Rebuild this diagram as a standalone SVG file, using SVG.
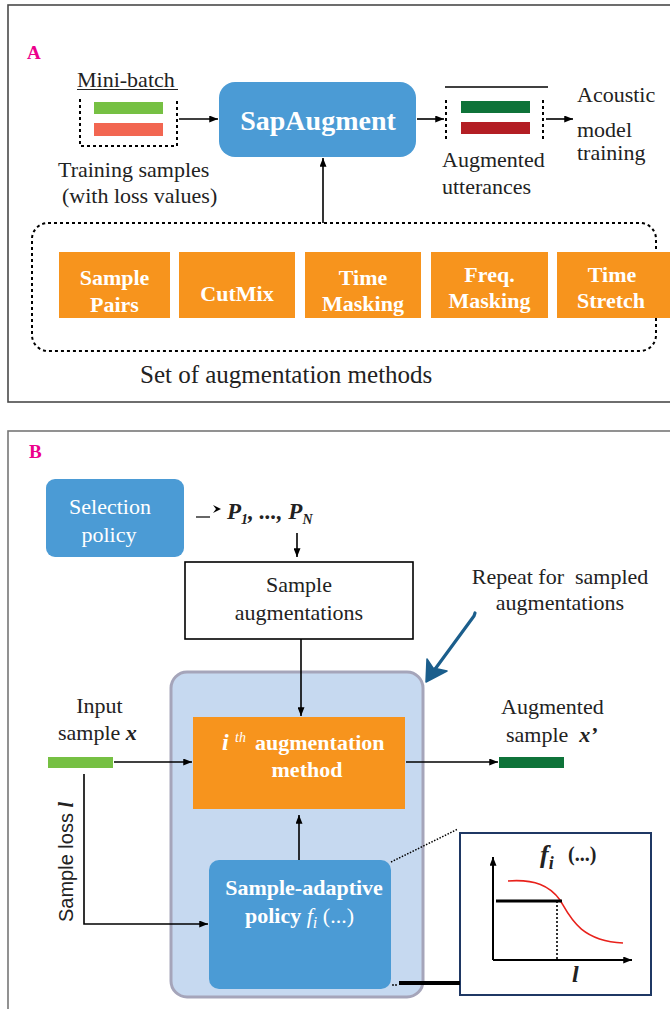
<svg xmlns="http://www.w3.org/2000/svg" width="670" height="1009" viewBox="0 0 670 1009" font-family="Liberation Serif, Tinos, Times New Roman, DejaVu Serif, serif">
<defs>
<marker id="ah" viewBox="0 0 10 8" refX="10" refY="4" markerWidth="9" markerHeight="7" markerUnits="userSpaceOnUse" orient="auto">
<path d="M0,0 L10,4 L0,8 Z" fill="#000"/>
</marker>
<style>
text{font-family:'Liberation Serif','Tinos','Times New Roman','DejaVu Serif',serif}
.t{fill:#222;font-size:22px}
.w{fill:#fff;font-size:22px;font-weight:bold}
.lab{fill:#EC008C;font-size:19px;font-weight:bold}
.bi{font-weight:bold;font-style:italic}
.sans{font-family:'Liberation Sans',Arial,sans-serif}
.c{stroke:#000;stroke-width:1.6;fill:none}
.orange{fill:#F7941D}
.blue{fill:#4B9BD5}
.dash{stroke:#000;stroke-width:2;fill:none;stroke-dasharray:3,3}
</style>
</defs>
<rect width="670" height="1009" fill="#fff"/>

<!-- Panel A -->
<g id="panelA">
<rect x="8" y="5" width="700" height="397" fill="none" stroke="#4a4a4a" stroke-width="1.6"/>
<text class="lab" x="27" y="59">A</text>
</g>

<g id="minibatch">
<text class="t" x="77" y="87">Mini-batch</text>
<line x1="77" y1="89.5" x2="178" y2="89.5" stroke="#222" stroke-width="1.2"/>
<path class="dash" d="M80,99 V146 H177 V99"/>
<rect x="94" y="102" width="69" height="12" fill="#76C043"/>
<rect x="94" y="123" width="69" height="13" fill="#F26651"/>
<text class="t" x="58" y="177">Training samples</text>
<text class="t" x="62" y="203">(with loss values)</text>
</g>

<g id="sapaugment">
<rect class="blue" x="219" y="82" width="197" height="75" rx="16"/>
<text class="w" x="318" y="130" text-anchor="middle" style="font-size:28px">SapAugment</text>
</g>

<g id="augmented">
<line x1="445" y1="87" x2="548" y2="87" stroke="#000" stroke-width="1.5"/>
<line class="dash" x1="446" y1="100" x2="446" y2="141"/>
<line class="dash" x1="543" y1="100" x2="543" y2="141"/>
<rect x="461" y="101" width="69" height="12" fill="#0E7339"/>
<rect x="461" y="122" width="69" height="12" fill="#B31E24"/>
<text class="t" x="442" y="167">Augmented</text>
<text class="t" x="442" y="194">utterances</text>
</g>

<g id="acoustic">
<text class="t" x="577" y="102">Acoustic</text>
<text class="t" x="577" y="137">model</text>
<text class="t" x="577" y="160">training</text>
</g>

<g id="methods">
<rect class="dash" x="32" y="223" width="624" height="128" rx="16"/>
<rect class="orange" x="59" y="252" width="111" height="66"/>
<text class="w" x="114.5" y="285" text-anchor="middle">Sample</text>
<text class="w" x="114.5" y="312" text-anchor="middle">Pairs</text>
<rect class="orange" x="179" y="252" width="116" height="66"/>
<text class="w" x="237" y="301" text-anchor="middle">CutMix</text>
<rect class="orange" x="305" y="252" width="116" height="66"/>
<text class="w" x="363" y="285" text-anchor="middle">Time</text>
<text class="w" x="363" y="311" text-anchor="middle">Masking</text>
<rect class="orange" x="431" y="252" width="117" height="66"/>
<text class="w" x="489.5" y="282" text-anchor="middle">Freq.</text>
<text class="w" x="489.5" y="308" text-anchor="middle">Masking</text>
<rect class="orange" x="557" y="252" width="113" height="66"/>
<text class="w" x="612" y="282" text-anchor="middle">Time</text>
<text class="w" x="611" y="308" text-anchor="middle">Stretch</text>
<text class="t" x="140" y="383" style="font-size:25px">Set of augmentation methods</text>
</g>

<!-- Panel B -->
<g id="panelB">
<rect x="8" y="431" width="700" height="600" fill="none" stroke="#777" stroke-width="1.6"/>
<text class="lab" x="29" y="458">B</text>
</g>

<g id="selection">
<rect class="blue" x="46" y="479" width="138" height="78" rx="9"/>
<text class="t" x="110" y="514" text-anchor="middle" style="fill:#fff">Selection</text>
<text class="t" x="109" y="542" text-anchor="middle" style="fill:#fff">policy</text>
</g>

<g id="probs">
<text class="t bi" x="227" y="519" style="font-size:23px">P<tspan dy="5" style="font-size:14px">1</tspan><tspan dy="-5">, ..., P</tspan><tspan dy="5" style="font-size:14px">N</tspan></text>
</g>

<g id="sampleaug">
<rect x="185" y="562" width="228" height="77" fill="#fff" stroke="#000" stroke-width="1.6"/>
<text class="t" x="299" y="592" text-anchor="middle">Sample</text>
<text class="t" x="299" y="620" text-anchor="middle">augmentations</text>
</g>

<g id="repeat">
<text class="t" x="560" y="584" text-anchor="middle" xml:space="preserve">Repeat for  sampled</text>
<text class="t" x="560" y="610" text-anchor="middle">augmentations</text>
<path d="M475,613 L474,616 L430,676" stroke="#1B5E8C" stroke-width="3.2" fill="none" stroke-linecap="round"/>
<path d="M426,682 L427,659 L433,668 L447,671 Z" fill="#1B5E8C" stroke="#1B5E8C" stroke-width="1.5" stroke-linejoin="round"/>
</g>

<g id="container">
<rect x="171" y="672" width="252" height="325" rx="16" fill="#C6D9F0" stroke="#A5A5BA" stroke-width="3"/>
</g>

<g id="ithmethod">
<rect class="orange" x="193" y="717" width="212" height="92"/>
<text class="w" x="222" y="750" style="font-style:italic;font-size:24px">i</text>
<text class="w" x="235" y="742" style="font-size:14px;font-style:italic;font-weight:normal">th</text>
<text class="w" x="255" y="750">augmentation</text>
<text class="w" x="307" y="777" text-anchor="middle">method</text>
</g>

<g id="adaptive">
<rect class="blue" x="209" y="860" width="182" height="129" rx="10"/>
<text class="w" x="304" y="895" text-anchor="middle">Sample-adaptive</text>
<text class="w" x="245" y="923">policy <tspan style="font-style:italic;font-weight:normal">f</tspan><tspan dy="5" style="font-size:16px;font-style:italic;font-weight:normal">i</tspan><tspan dy="-5" style="font-weight:normal"> (...)</tspan></text>
</g>

<g id="input">
<text class="t" x="99.5" y="713" text-anchor="middle">Input</text>
<text class="t" x="58" y="740">sample <tspan class="bi">x</tspan></text>
<rect x="48" y="757" width="65" height="11" fill="#76C043"/>
<text class="t sans" transform="translate(73,922) rotate(-90)" style="font-size:20px">Sample loss <tspan class="bi" style="font-family:'Liberation Serif',serif">l</tspan></text>
</g>

<g id="output">
<text class="t" x="501" y="714">Augmented</text>
<text class="t" x="506" y="742" xml:space="preserve">sample  <tspan class="bi">x’</tspan></text>
<rect x="499" y="757" width="65" height="11" fill="#0E7339"/>
</g>

<g id="fbox">
<rect x="460" y="833" width="191" height="162" fill="#fff" stroke="#1F3864" stroke-width="2"/>
<text class="t bi" x="540" y="863" style="font-size:26px">f<tspan dy="6" style="font-size:18px">i</tspan></text>
<text class="t" x="568" y="861" style="font-size:20px;font-weight:bold">(...)</text>
<line x1="493" y1="960" x2="493" y2="857" class="c" style="stroke-width:2" marker-end="url(#ah)"/>
<line x1="493" y1="960" x2="632" y2="960" class="c" style="stroke-width:2" marker-end="url(#ah)"/>
<path d="M508,881 C535,879 550,886 560,900 C570,917 580,941 623,943" fill="none" stroke="#E8211B" stroke-width="1.6"/>
<line x1="496" y1="901" x2="562" y2="901" stroke="#000" stroke-width="3"/>
<line x1="557" y1="901" x2="557" y2="960" stroke="#000" stroke-width="1.6" stroke-dasharray="2,2"/>
<text class="t bi" x="572" y="982" style="font-size:24px">l</text>
</g>

<g id="connectors">
<line class="c" x1="179" y1="119" x2="218" y2="119" marker-end="url(#ah)"/>
<line class="c" x1="417" y1="119" x2="444" y2="119" marker-end="url(#ah)"/>
<line class="c" x1="546" y1="119" x2="573" y2="119" marker-end="url(#ah)"/>
<line class="c" x1="323" y1="223" x2="323" y2="158" marker-end="url(#ah)"/>
<line x1="196" y1="517" x2="210" y2="517" stroke="#000" stroke-width="1.2"/>
<path d="M213,505 L221,509 L213,513 L216,509 Z" fill="#000"/>
<line class="c" x1="297" y1="533" x2="297" y2="557" marker-end="url(#ah)"/>
<line class="c" x1="301" y1="639" x2="301" y2="716" marker-end="url(#ah)"/>
<line class="c" x1="114" y1="762" x2="192" y2="762" marker-end="url(#ah)"/>
<line class="c" x1="406" y1="762" x2="498" y2="762" marker-end="url(#ah)"/>
<line class="c" x1="299" y1="860" x2="299" y2="815" marker-end="url(#ah)"/>
<polyline class="c" points="84,774 84,924 208,924" marker-end="url(#ah)"/>
<line x1="391" y1="862" x2="458" y2="829" stroke="#000" stroke-width="1.5" stroke-dasharray="1.5,1.5"/>
<circle cx="393" cy="985" r="0.9" fill="#000"/>
<circle cx="396" cy="985" r="0.9" fill="#000"/>
<line x1="399" y1="983" x2="460" y2="983" stroke="#000" stroke-width="4"/>
</g>
</svg>
